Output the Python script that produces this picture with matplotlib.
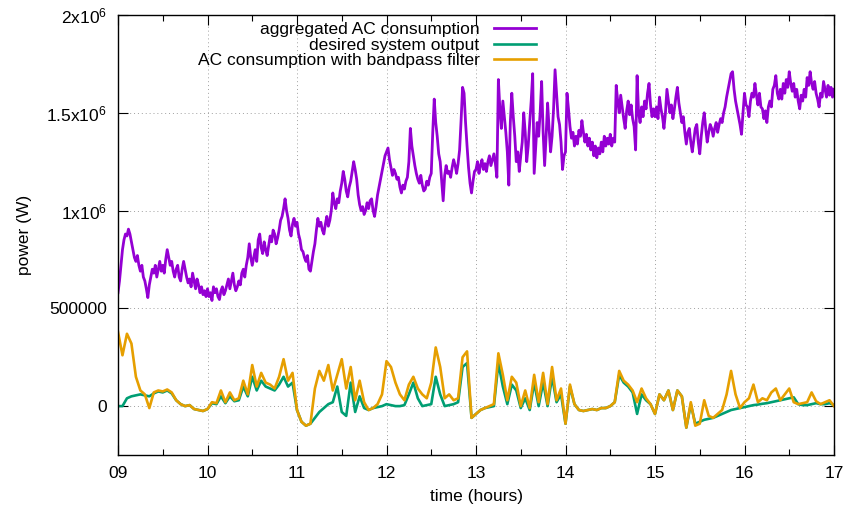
import numpy as np
import matplotlib
matplotlib.use('Agg')
import matplotlib.pyplot as plt
from matplotlib.ticker import MultipleLocator

# aggregated AC consumption in kW, one reading per minute, 09:00 - 17:00
aggregated_kw = [
    # 09
    580, 640, 720, 800, 850, 880, 870, 905, 880, 840,
    800, 760, 740, 770, 720, 690, 720, 660, 640, 600,
    555, 620, 660, 700, 680, 720, 660, 700, 740, 690,
    720, 680, 750, 800, 760, 720, 740, 690, 660, 700,
    720, 660, 640, 700, 740, 700, 660, 630, 650, 610,
    680, 640, 600, 650, 620, 580, 610, 570, 590, 560,
    # 10
    600, 560, 580, 540, 610, 580, 600, 560, 545, 590,
    610, 570, 590, 620, 650, 600, 640, 680, 620, 590,
    610, 640, 620, 680, 700, 660, 720, 760, 830, 760,
    720, 760, 800, 740, 850, 880, 810, 780, 840, 800,
    770, 820, 870, 840, 900, 880, 830, 860, 900, 950,
    970, 1010, 1060, 1000, 960, 900, 870, 930, 960, 920,
    # 11
    940, 880, 850, 800, 790, 760, 740, 770, 700, 690,
    740, 790, 830, 900, 960, 920, 940, 900, 880, 930,
    970, 920, 950, 1000, 1090, 1040, 1010, 1060, 1040, 1100,
    1140, 1200, 1160, 1100, 1070, 1120, 1150, 1200, 1250, 1210,
    1160, 1080, 1030, 1000, 1020, 980, 1000, 1040, 1010, 1050,
    1060, 1000, 970, 1020, 1080, 1120, 1160, 1200, 1240, 1280,
    # 12
    1300, 1320, 1260, 1220, 1180, 1210, 1190, 1160, 1170, 1120,
    1090, 1130, 1110, 1150, 1170, 1250, 1420, 1330, 1280, 1230,
    1190, 1160, 1140, 1180, 1130, 1100, 1110, 1150, 1130, 1170,
    1190, 1400, 1570, 1450, 1380, 1290, 1250, 1150, 1050, 1180,
    1230, 1190, 1200, 1170, 1220, 1260, 1230, 1190, 1240, 1310,
    1460, 1630, 1600, 1450, 1330, 1220, 1140, 1090, 1150, 1200,
    # 13
    1210, 1250, 1190, 1230, 1260, 1210, 1240, 1200, 1250, 1280,
    1230, 1260, 1290, 1240, 1170, 1670, 1520, 1420, 1560, 1480,
    1400, 1300, 1130, 1450, 1600, 1480, 1380, 1250, 1300, 1200,
    1280, 1350, 1500, 1400, 1250, 1330, 1450, 1560, 1700, 1190,
    1320, 1450, 1380, 1500, 1660, 1400, 1230, 1380, 1550, 1420,
    1300, 1380, 1520, 1720, 1600, 1480, 1440, 1350, 1210, 1280,
    # 14
    1300, 1600, 1520, 1430, 1370, 1400, 1330, 1380, 1340, 1410,
    1380, 1460, 1400, 1350, 1390, 1330, 1370, 1310, 1350, 1280,
    1330, 1270, 1320, 1290, 1350, 1300, 1380, 1330, 1370, 1340,
    1390, 1330, 1370, 1350, 1640, 1560, 1500, 1590, 1530, 1470,
    1420, 1510, 1560, 1490, 1540, 1470, 1430, 1310, 1690, 1500,
    1450, 1530, 1480, 1560, 1520, 1600, 1650, 1540, 1480, 1520,
    # 15
    1480, 1530, 1470, 1580, 1520, 1480, 1420, 1500, 1620, 1560,
    1500, 1540, 1470, 1520, 1580, 1630, 1550, 1500, 1450, 1480,
    1400, 1340, 1400, 1420, 1350, 1300, 1360, 1420, 1440, 1350,
    1290, 1380, 1450, 1500, 1420, 1350, 1400, 1440, 1420, 1380,
    1420, 1450, 1400, 1440, 1470, 1450, 1500, 1530, 1580, 1620,
    1660, 1700, 1710, 1620, 1560, 1520, 1480, 1440, 1390, 1500,
    # 16
    1600, 1540, 1530, 1480, 1560, 1600, 1580, 1650, 1590, 1540,
    1600, 1530, 1520, 1470, 1510, 1450, 1530, 1560, 1530, 1620,
    1640, 1690, 1600, 1570, 1620, 1570, 1650, 1600, 1670, 1630,
    1710, 1650, 1610, 1650, 1580, 1620, 1560, 1520, 1590, 1560,
    1620, 1580, 1680, 1640, 1710, 1650, 1620, 1660, 1600, 1570,
    1530, 1600, 1580, 1660, 1620, 1580, 1640, 1590, 1630, 1580,
    # 17
    1620,
]

# desired system output in kW, one value every 3 minutes
desired_kw = [
    0, 0, 40, 50, 55, 60, 55, 50, 65, 75, 70, 80, 65, 30, 10, 0, 5, -15, -20, -25,
    -15, 15, 10, 50, 15, 50, 25, 30, 100, 50, 150, 80, 130, 100, 90, 80, 110, 150, 100, 120,
    -20, -80, -100, -90, -60, -30, -10, 10, 20, 100, -30, -50, 120, -30, 50, -10, -20, -10, -5, 0,
    10, 5, 0, 0, 5, 60, 120, 40, 0, 5, 10, 150, 60, 0, 5, 10, 20, 200, 220, -60,
    -40, -20, -10, -5, 0, 220, 100, 10, 110, 80, -10, 40, -20, 120, 0, 120, 0, 150, 20, 60,
    -90, 100, 10, -20, -25, -20, -15, -20, -10, -10, 0, 20, 160, 120, 100, 70, -40, 60, 30, 10,
    -40, 60, 30, 80, -20, 80, 50, -110, 10, -90, -80, -70, -65, -60, -50, -40, -30, -20, -15, -10,
    -5, 0, 5, 8, 12, 15, 20, 25, 30, 35, 40, 45, 10, 5, 5, 10, 15, 10, 10, 15,
    5,
]

# AC consumption after the bandpass filter in kW, one value every 3 minutes
bandpass_kw = [
    380, 260, 370, 320, 150, 80, 60, -10, 70, 80, 75, 85, 70, 30, 10, 0, 5, -15, -20, -25,
    -15, 20, 15, 80, 20, 70, 30, 40, 130, 60, 210, 100, 170, 120, 110, 90, 150, 240, 130, 170,
    -20, -80, -100, -90, 90, 180, 130, 210, 80, 160, 240, 90, 200, 30, 130, 20, -20, -10, 10, 60,
    230, 200, 120, 60, 30, 110, 150, 90, 60, 40, 120, 300, 200, 40, 60, 30, 40, 250, 280, -60,
    -40, -20, -10, 0, 10, 270, 160, 30, 150, 120, 0, 80, -10, 160, 20, 170, 10, 200, 30, 90,
    -90, 110, 10, -20, -25, -20, -15, -20, -10, -10, 0, 20, 180, 130, 110, 80, 20, 90, 40, 10,
    -40, 60, 30, 80, -20, 80, 50, -110, 20, -100, -90, 30, -50, -60, -40, -20, 60, 180, 60, -10,
    20, 40, 110, 20, 40, 30, 70, 90, 30, 60, 90, 20, 10, 15, 20, 70, 25, 10, 20, 30,
    0,
]

hour_labels = ['09', '10', '11', '12', '13', '14', '15', '16', '17']
power_ticks = [0, 500000, 1000000, 1500000, 2000000]
power_labels = ['0', '500000', '1x10$^6$', '1.5x10$^6$', '2x10$^6$']

t_agg = 9 + np.arange(len(aggregated_kw)) / 60.0
t_out = 9 + np.arange(len(bandpass_kw)) / 20.0

plt.rcParams['font.family'] = ['Liberation Sans', 'DejaVu Sans']
plt.rcParams['mathtext.default'] = 'regular'
plt.rcParams['font.size'] = 12.5

fig = plt.figure(figsize=(8.43, 5.11), dpi=100)
ax = fig.add_axes([118 / 843, 1 - 455 / 511, 716 / 843, 440 / 511])

ax.plot(t_agg, np.array(aggregated_kw) * 1000, color='#9400d3', lw=2.0, label='aggregated AC consumption')
ax.plot(t_out, np.array(desired_kw) * 1000, color='#009e73', lw=1.9, label='desired system output')
ax.plot(t_out, np.array(bandpass_kw) * 1000, color='#e69f00', lw=1.9, label='AC consumption with bandpass filter')

ax.set_xlim(9, 17)
ax.set_ylim(-250000, 2000000)
ax.set_xticks(range(9, 18))
ax.set_xticklabels(hour_labels)
ax.xaxis.set_minor_locator(MultipleLocator(0.5))
ax.set_yticks(power_ticks)
ax.set_yticklabels(power_labels)
ax.tick_params(direction='in', top=True, right=True, length=7, width=0.8, pad=8)
ax.tick_params(which='minor', direction='in', top=True, length=4, width=0.8)
ax.grid(True, which='major', color='#a0a0a0', linestyle=(0, (1, 3)), linewidth=0.7)
for s in ax.spines.values():
    s.set_linewidth(1.0)

ax.set_xlabel('time (hours)', labelpad=6)
ax.set_ylabel('power (W)', labelpad=10)

ax.legend(loc='upper right', bbox_to_anchor=(536 / 843, 1 - 22 / 511), bbox_transform=fig.transFigure,
          frameon=False, markerfirst=False, handlelength=2.4, handletextpad=0.85,
          labelspacing=0.03, borderpad=0, borderaxespad=0)

fig.savefig('out.png', dpi=100)
